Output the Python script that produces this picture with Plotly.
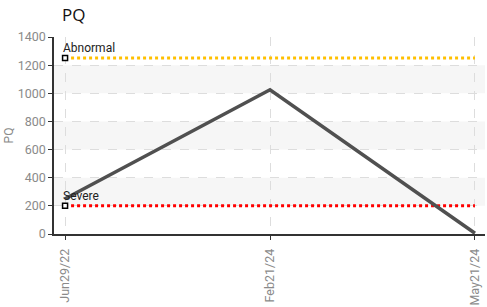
import plotly.graph_objects as go

dates = ["Jun29/22", "Feb21/24", "May21/24"]
pq_values = [250, 1025, 5]
abnormal_level = 1250
severe_level = 200
threshold_names = ["Abnormal", "Severe"]
y_ticks = [0, 200, 400, 600, 800, 1000, 1200, 1400]
band_ranges = [(200, 400), (600, 800), (1000, 1200)]

TICK_FONT = dict(family="Roboto", size=12.5, color="#8a8a8a")

fig = go.Figure()

for lo, hi in band_ranges:
    fig.add_shape(type="rect", xref="paper", yref="y", x0=0, x1=1, y0=lo, y1=hi,
                  fillcolor="#f6f6f6", line=dict(width=0), layer="below")

fig.add_trace(go.Scatter(x=dates, y=[abnormal_level] * len(dates), mode="lines",
                         line=dict(color="#FFC000", width=3, dash="dot"), hoverinfo="skip"))
fig.add_trace(go.Scatter(x=dates, y=[severe_level] * len(dates), mode="lines",
                         line=dict(color="#FF0000", width=3, dash="dot"), hoverinfo="skip"))
fig.add_trace(go.Scatter(x=dates, y=pq_values, mode="lines",
                         line=dict(color="#505050", width=3.5)))
fig.add_trace(go.Scatter(x=[dates[0], dates[0]], y=[abnormal_level, severe_level], mode="markers",
                         marker=dict(symbol="square", size=5, color="white",
                                     line=dict(color="black", width=1.5))))

for name, level in zip(threshold_names, [abnormal_level, severe_level]):
    fig.add_annotation(x=dates[0], y=level, text=name, showarrow=False,
                       xanchor="left", yanchor="bottom", xshift=-4, yshift=1,
                       font=dict(family="Roboto", size=12, color="#222"))

fig.update_layout(
    width=487, height=307,
    margin=dict(l=54, r=2, t=37, b=73, autoexpand=False),
    paper_bgcolor="white", plot_bgcolor="white",
    showlegend=False,
    title=dict(text="PQ", x=62 / 487, xanchor="left", y=1 - 15 / 307, yanchor="middle",
               font=dict(family="Open Sans", size=17, color="#111")),
    font=TICK_FONT,
)
fig.update_xaxes(type="category", range=[-0.054, 2.049], automargin=False,
                 showline=True, linecolor="#333", linewidth=1.5,
                 ticks="outside", tickcolor="#333", ticklen=4, ticklabelstandoff=4,
                 tickangle=-90, tickfont=TICK_FONT,
                 showgrid=True, gridcolor="#dddddd", griddash="dash", gridwidth=1,
                 zeroline=False)
fig.update_yaxes(range=[0, 1400], tickvals=y_ticks, automargin=False,
                 showline=True, linecolor="#333", linewidth=1.5,
                 ticks="outside", tickcolor="#333", ticklen=4,
                 tickfont=TICK_FONT,
                 showgrid=True, gridcolor="#dddddd", griddash="dash", gridwidth=1,
                 zeroline=False,
                 title=dict(text="PQ", font=dict(family="Roboto", size=12, color="#8a8a8a"),
                            standoff=1))

fig.write_html("out.html", config={"displayModeBar": False},
               post_script="document.body.style.margin='0';")
